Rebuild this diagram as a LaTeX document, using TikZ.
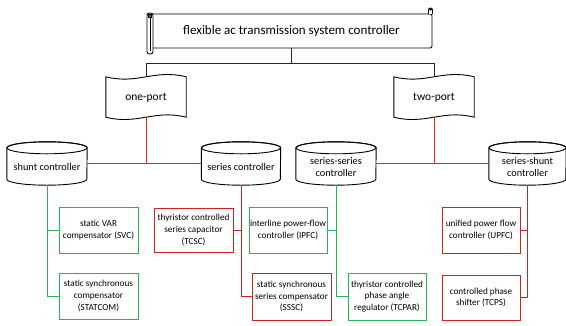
\documentclass[tikz,border=0pt]{standalone}
\usepackage{fontspec}
\setmainfont{Carlito}
\usetikzlibrary{calc}
\definecolor{bgreen}{RGB}{40,178,90}
\definecolor{bred}{RGB}{205,35,35}
\definecolor{lred}{RGB}{240,30,30}
\tikzset{
  blk/.style={draw=black!85,line width=1pt},
  lr/.style={draw=lred,line width=1pt},
  lrd/.style={draw=bred,line width=1pt},
  lg/.style={draw=bgreen,line width=1pt},
  cylnode/.style={minimum width=#1,minimum height=43pt,inner sep=0pt,draw=none},
  wavenode/.style={minimum width=80pt,minimum height=40pt,inner sep=0pt,draw=none},
  cyltext/.style={font=\fontsize{10.3pt}{12pt}\selectfont,align=center,inner sep=0pt},
  gbox/.style={draw=bgreen,line width=1pt,minimum width=79pt,minimum height=46pt,inner sep=0pt,align=center,font=\fontsize{9.2pt}{11.8pt}\selectfont},
  rbox/.style={gbox,draw=bred}
}
\newcommand\mycyl[5]{% name, cx, cy, half width, text
  \node[cylnode=2*#4 pt] (#1) at (#2,#3) {};
  \draw[line width=0.9pt,fill=white] ($(#1.north west)+(0,6)$) -- ($(#1.south west)+(0,-6)$)
     arc[start angle=180,end angle=360,x radius=#4pt,y radius=6pt]
     -- ($(#1.north east)+(0,6)$)
     arc[start angle=0,end angle=180,x radius=#4pt,y radius=6pt] -- cycle;
  \draw[line width=0.9pt] ($(#1.north)+(0,6)$) ellipse[x radius=#4pt,y radius=6pt];
  \node[cyltext] (#1t) at ($(#1.center)+(0,3.5)$) {#5};
}
\newcommand\mywave[4]{% name, cx, cy, text
  \node[wavenode] (#1) at (#2,#3) {};
  \draw[line width=0.9pt,fill=white] (#1.north west) .. controls +(32,8) and +(-32,-8) .. (#1.north east)
     -- (#1.south east) .. controls +(-32,-8) and +(32,8) .. (#1.south west) -- cycle;
  \node[font=\fontsize{11.5pt}{13pt}\selectfont,inner sep=0pt] (#1t) at ($(#1.center)+(0,1)$) {#4};
}
\begin{document}
\begin{tikzpicture}[x=1pt,y=-1pt]
\useasboundingbox (0,0) rectangle (566,325);
\fill[white] (0,0) rectangle (566,325);

% title scroll
\node[minimum width=281pt,minimum height=34pt,inner sep=0pt] (title) at (291.5,31) {};
\draw[line width=0.9pt,fill=white,rounded corners=2pt] (151,14) -- (432,14) -- (432,48) -- (151,48);
\draw[line width=0.9pt,fill=white] (428.5,14) -- (428.5,10) arc[start angle=180,end angle=0,radius=2pt] -- (432.5,14);
\fill (430.5,9.5) circle (1.3pt);
\draw[line width=0.9pt,fill=white,rounded corners=2.5pt] (147,13) rectangle (153,54);
\draw[line width=0.7pt] (150,17) -- (150,51);
\draw[line width=0.7pt,fill=black!60] (148.5,14) rectangle (151.5,17);
\node[font=\fontsize{13pt}{15pt}\selectfont,inner sep=0pt] (titlet) at (title.center) {flexible ac transmission system controller};

% ports
\mywave{op}{146}{97}{one-port}
\mywave{tp}{434}{97}{two-port}

% cylinders
\mycyl{sh}{47}{163.5}{40}{shunt controller}
\mycyl{se}{241}{163.5}{39.5}{series controller}
\mycyl{ss}{336}{163.5}{40}{series-series\\controller}
\mycyl{sx}{527.5}{163.5}{38.5}{series-shunt\\controller}

% boxes
\node[gbox] (svc) at (98.5,230) {static VAR\\compensator (SVC)};
\node[gbox] (statcom) at (98.5,296) {static synchronous\\compensator\\(STATCOM)};
\node[rbox,minimum height=44pt] (tcsc) at (193.5,230) {thyristor controlled\\series capacitor\\(TCSC)};
\node[rbox,minimum height=47pt] (sssc) at (291.5,296.5) {static synchronous\\series compensator\\(SSSC)};
\node[gbox,minimum width=78pt] (ipfc) at (288,230) {interline power-flow\\controller (IPFC)};
\node[gbox,minimum width=78pt,minimum height=47pt] (tcpar) at (387,296.5) {thyristor controlled\\phase angle\\regulator (TCPAR)};
\node[rbox,minimum width=78pt] (upfc) at (481,230) {unified power flow\\controller (UPFC)};
\node[rbox,minimum width=78pt,minimum height=45pt] (tcps) at (481,297.5) {controlled phase\\shifter (TCPS)};

% black tree
\draw[blk] (title.south) -- ++(0,15) coordinate (tj);
\draw[blk] (op.north) |- (tj) -| (tp.north);

% red level lines
\draw[lr] (sh.east) -- (se.west);
\draw[lr] (op.south) -- (op.south |- sh.east);
\draw[lr] (ss.east) -- (sx.west);
\draw[lr] (tp.south) -- (tp.south |- ss.east);

% children
\draw[lg] (sh.south) |- (statcom.west);
\draw[lg] (sh.south |- svc.west) -- (svc.west);
\draw[lrd] (se.south) |- (sssc.west);
\draw[lrd] (se.south |- tcsc.east) -- (tcsc.east);
\draw[lg] (ss.south) |- (tcpar.west);
\draw[lg] (ss.south |- ipfc.east) -- (ipfc.east);
\draw[lrd] (sx.south) |- (tcps.east);
\draw[lrd] (sx.south |- upfc.east) -- (upfc.east);
\end{tikzpicture}
\end{document}
